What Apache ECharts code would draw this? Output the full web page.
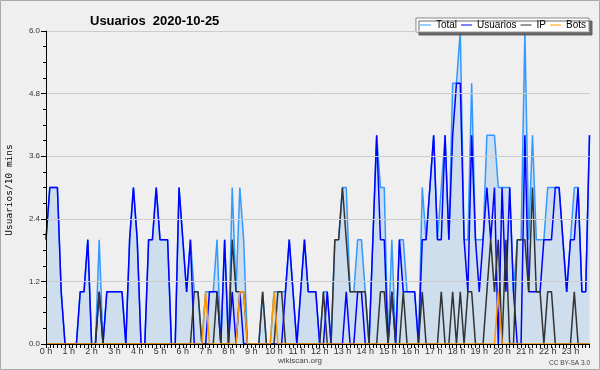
<!DOCTYPE html>
<html><head><meta charset="utf-8">
<script src="https://cdn.jsdelivr.net/npm/echarts@6/dist/echarts.min.js"></script>
<style>html,body{margin:0;padding:0;background:#efefef}#c{width:600px;height:370px}</style>
</head><body><div id="c"></div>
<script>
const hourLabels = ['0 h','1 h','2 h','3 h','4 h','5 h','6 h','7 h','8 h','9 h','10 h','11 h','12 h','13 h','14 h','15 h','16 h','17 h','18 h','19 h','20 h','21 h','22 h','23 h'];
const yTicks = [0, 1.2, 2.4, 3.6, 4.8, 6.0];
const usuarios = [
 2,3,3,3,1,0, 0,0,0,1,1,2, 0,0,1,0,1,1, 1,1,1,0,2,3,
 2,0,0,2,2,3, 2,2,2,0,0,3, 2,1,2,0,0,0, 0,1,1,1,0,2,
 0,1,0,1,0,0, 0,0,0,0,0,0, 0,0,0,1,2,1, 0,1,2,1,1,1,
 0,0,1,0,0,0, 0,1,0,0,1,1, 0,0,2,4,2,2, 0,1,0,2,1,1,
 1,1,0,2,2,3, 4,2,2,4,2,4, 5,5,2,1,4,2, 1,2,3,2,3,0,
 3,1,3,1,0,0, 4,1,1,1,1,2, 2,2,3,3,2,1, 2,2,3,1,1,4];
const ip = [
 0,0,0,0,0,0, 0,0,0,0,0,0, 0,0,1,0,0,0, 0,0,0,0,0,0,
 0,0,0,0,0,0, 0,0,0,0,0,0, 0,0,0,1,1,0, 0,0,0,1,0,0,
 0,2,1,1,1,0, 0,0,0,1,0,0, 0,1,1,0,0,0, 0,0,0,0,0,0,
 0,1,0,0,2,2, 3,2,1,1,1,1, 1,0,0,0,1,1, 0,1,0,0,1,0,
 0,0,0,1,0,0, 0,0,1,0,0,1, 0,1,0,1,1,0, 0,0,1,2,1,2,
 0,2,0,0,2,2, 2,1,3,1,1,0, 1,1,0,0,0,0, 0,1,0,0,0,0];
const bots = [
 0,0,0,0,0,0, 0,0,0,0,0,0, 0,0,0,0,0,0, 0,0,0,0,0,0,
 0,0,0,0,0,0, 0,0,0,0,0,0, 0,0,0,0,0,0, 1,0,0,0,0,0,
 0,0,0,1,1,0, 0,0,0,0,0,0, 1,0,0,0,0,0, 0,0,0,0,0,0,
 0,0,0,0,0,0, 0,0,0,0,0,0, 0,0,0,0,0,0, 0,0,0,0,0,0,
 0,0,0,0,0,0, 0,0,0,0,0,0, 0,0,0,0,0,0, 0,0,0,0,0,1,
 0,0,0,0,0,0, 0,0,0,0,0,0, 0,0,0,0,0,0, 0,0,0,0,0,0];
const total = [
 2,3,3,3,1,0, 0,0,0,1,1,2, 0,0,2,0,1,1, 1,1,1,0,2,3,
 2,0,0,2,2,3, 2,2,2,0,0,3, 2,1,2,1,1,0, 1,1,1,2,0,2,
 0,3,1,3,2,0, 0,0,0,1,0,0, 1,1,1,1,2,1, 0,1,2,1,1,1,
 0,1,1,0,2,2, 3,3,1,1,2,2, 1,0,2,4,3,3, 0,2,0,2,2,1,
 1,1,0,3,2,3, 4,2,3,4,2,5, 5,6,2,2,5,2, 2,2,4,4,4,3,
 3,3,3,1,2,2, 6,2,4,2,2,2, 3,3,3,3,2,1, 2,3,3,1,1,4];

const slots = [];
for (let h = 0; h < 24; h++) for (let m = 0; m < 60; m += 10) slots.push(h + ':' + (m < 10 ? '0' : '') + m);

const chart = echarts.init(document.getElementById('c'), null, {renderer: 'canvas'});
const F = 'Liberation Sans, Arial, sans-serif';
chart.setOption({
  backgroundColor: '#efefef',
  animation: false,
  title: {text: 'Usuarios  2020-10-25', left: 85, top: 10,
    textStyle: {fontFamily: F, fontSize: 13, fontWeight: 'bold', color: '#000'}},
  legend: {
    right: 11, top: 18, icon: 'rect', itemWidth: 11, itemHeight: 1, itemGap: 4,
    padding: [2, 3, 2, 4], backgroundColor: '#fff', borderColor: '#888', borderWidth: 1,
    shadowColor: 'rgba(90,90,90,0.9)', shadowOffsetX: 3, shadowOffsetY: 3, shadowBlur: 0,
    textStyle: {fontFamily: F, fontSize: 10, color: '#000'},
    data: ['Total', 'Usuarios', 'IP', 'Bots']
  },
  grid: {left: 46, right: 10.5, top: 31, bottom: 26, containLabel: false},
  xAxis: {
    type: 'category', data: slots, boundaryGap: false, z: 10,
    axisLine: {lineStyle: {color: '#000', width: 1}},
    axisTick: {show: true, interval: 0, length: 4, lineStyle: {color: '#000'}},
    axisLabel: {interval: 5, margin: 3, fontFamily: F, fontSize: 9, color: '#333',
      formatter: (v, i) => (i % 6 === 0 ? hourLabels[i / 6] : '')},
    splitLine: {show: false}
  },
  yAxis: {
    type: 'value', min: yTicks[0], max: yTicks[yTicks.length - 1], interval: 1.2, z: 10,
    axisLine: {show: true, lineStyle: {color: '#000', width: 1}},
    axisTick: {show: true, length: 5, lineStyle: {color: '#000'}},
    minorTick: {show: true, splitNumber: 4, length: 3, lineStyle: {color: '#000'}},
    splitLine: {lineStyle: {color: '#cccccc', width: 1}},
    axisLabel: {margin: 6, fontFamily: F, fontSize: 8, color: '#333', formatter: v => v.toFixed(1)}
  },
  graphic: [
    {type: 'text', x: 10, y: 190, rotation: Math.PI / 2,
      style: {text: 'Usuarios/10 mins', fontFamily: 'DejaVu Sans Mono', fontSize: 9.5, fill: '#000', align: 'center', verticalAlign: 'middle'}},
    {type: 'text', x: 300, y: 361, style: {text: 'wikiscan.org', fontFamily: F, fontSize: 8, fill: '#444', align: 'center', verticalAlign: 'middle'}},
    {type: 'text', x: 590, y: 363, style: {text: 'CC BY-SA 3.0', fontFamily: F, fontSize: 6.5, fill: '#444', align: 'right', verticalAlign: 'middle'}},
    {type: 'rect', shape: {x: 0.5, y: 0.5, width: 599, height: 369}, style: {fill: 'none', stroke: '#aaa', lineWidth: 1}, z: 100}
  ],
  series: [
    {name: 'Total', type: 'line', data: total, symbol: 'none', lineStyle: {width: 1.5, color: '#3399ff'}, itemStyle: {color: '#3399ff'},
      areaStyle: {color: 'rgba(66,150,230,0.27)'}, z: 2},
    {name: 'Usuarios', type: 'line', data: usuarios, symbol: 'none', lineStyle: {width: 1.5, color: '#0000ff'}, itemStyle: {color: '#0000ff'}, z: 3},
    {name: 'IP', type: 'line', data: ip, symbol: 'none', lineStyle: {width: 1.5, color: '#333333'}, itemStyle: {color: '#333333'}, z: 4},
    {name: 'Bots', type: 'line', data: bots, symbol: 'none', lineStyle: {width: 1.5, color: '#ff9900'}, itemStyle: {color: '#ff9900'}, z: 5}
  ]
});
</script></body></html>
